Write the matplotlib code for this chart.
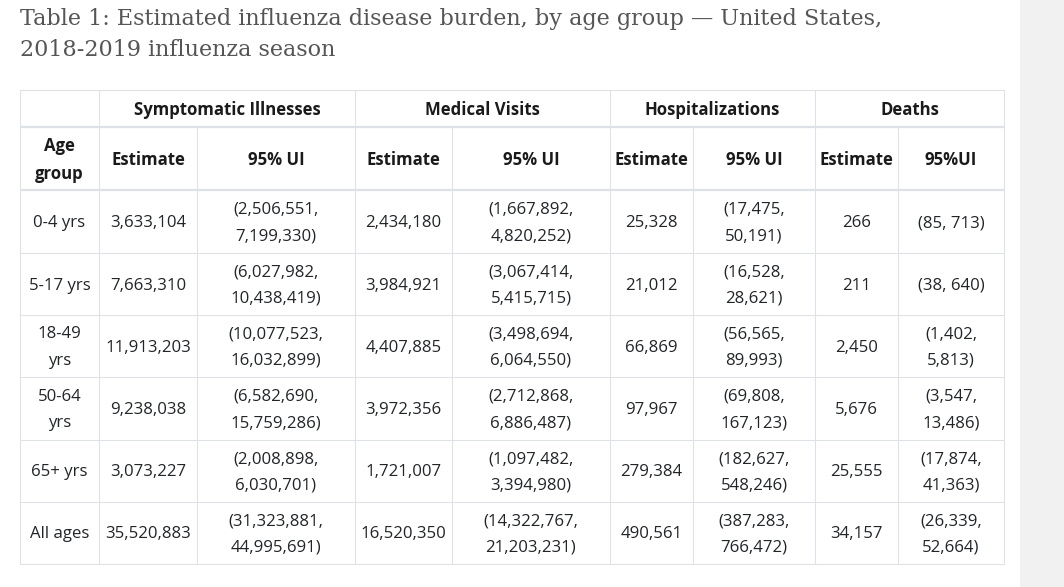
import matplotlib
matplotlib.use("Agg")
import matplotlib.pyplot as plt

# ---------------- data ----------------
title = "Table 1: Estimated influenza disease burden, by age group \u2014 United States,\n2018-2019 influenza season"
groups = ["Symptomatic Illnesses", "Medical Visits", "Hospitalizations", "Deaths"]
subheads = ["Estimate", "95% UI", "Estimate", "95% UI", "Estimate", "95% UI", "Estimate", "95%UI"]
age_groups = ["0-4 yrs", "5-17 yrs", "18-49\nyrs", "50-64\nyrs", "65+ yrs", "All ages"]
illness_est = ["3,633,104", "7,663,310", "11,913,203", "9,238,038", "3,073,227", "35,520,883"]
illness_ui = ["(2,506,551,\n7,199,330)", "(6,027,982,\n10,438,419)", "(10,077,523,\n16,032,899)",
              "(6,582,690,\n15,759,286)", "(2,008,898,\n6,030,701)", "(31,323,881,\n44,995,691)"]
visits_est = ["2,434,180", "3,984,921", "4,407,885", "3,972,356", "1,721,007", "16,520,350"]
visits_ui = ["(1,667,892,\n4,820,252)", "(3,067,414,\n5,415,715)", "(3,498,694,\n6,064,550)",
             "(2,712,868,\n6,886,487)", "(1,097,482,\n3,394,980)", "(14,322,767,\n21,203,231)"]
hosp_est = ["25,328", "21,012", "66,869", "97,967", "279,384", "490,561"]
hosp_ui = ["(17,475,\n50,191)", "(16,528,\n28,621)", "(56,565,\n89,993)",
           "(69,808,\n167,123)", "(182,627,\n548,246)", "(387,283,\n766,472)"]
death_est = ["266", "211", "2,450", "5,676", "25,555", "34,157"]
death_ui = ["(85, 713)", "(38, 640)", "(1,402,\n5,813)", "(3,547,\n13,486)", "(17,874,\n41,363)", "(26,339,\n52,664)"]

# ---------------- layout (pixels) ----------------
W, H = 1064, 587
col_x = [20, 99, 197, 355, 452, 610, 693, 815, 898, 1004]
row_y = [90, 127, 190, 253, 315, 377, 440, 502, 564]
line_c = "#dee2e6"
txt_c = "#212529"

fig = plt.figure(figsize=(W / 100, H / 100), dpi=100)
ax = fig.add_axes([0, 0, 1, 1])
ax.set_xlim(0, W)
ax.set_ylim(H, 0)
ax.axis("off")

# right grey panel
ax.add_patch(plt.Rectangle((1020, 0), W - 1020, H, color="#f1f1f1", lw=0, zorder=0))

ax.text(20, 8, title, fontsize=16, family="DejaVu Serif", color="#555555",
        va="top", ha="left", linespacing=1.5)

FS = 12.1
body = dict(family="Open Sans", color=txt_c, fontsize=FS, linespacing=1.85)
head = dict(family="Open Sans", color="#1a1a1a", fontsize=FS, fontweight="bold", linespacing=1.7)

def cx(i):
    return (col_x[i] + col_x[i + 1]) / 2

def cy(j):
    return (row_y[j] + row_y[j + 1]) / 2

# header row 1
for g, name in enumerate(groups):
    ax.text((col_x[1 + 2 * g] + col_x[3 + 2 * g]) / 2, cy(0) + 1.5, name, ha="center", va="center", **head)
# header row 2
ax.text(cx(0), cy(1) + 1.5, "Age\ngroup", ha="center", va="center", **head)
for i, s in enumerate(subheads):
    ax.text(cx(i + 1), cy(1) + 1.5, s, ha="center", va="center", **head)

cols = [age_groups, illness_est, illness_ui, visits_est, visits_ui, hosp_est, hosp_ui, death_est, death_ui]
for i, col in enumerate(cols):
    for j, val in enumerate(col):
        ax.text(cx(i), cy(j + 2) + 1.5, val, ha="center", va="center", **body)

# grid lines
lw1 = 0.75
for k, y in enumerate(row_y):
    thick = k in (1, 2)
    ax.plot([col_x[0], col_x[-1]], [y, y], color=line_c, lw=1.6 if thick else lw1,
            solid_capstyle="butt", zorder=1)
for i, x in enumerate(col_x):
    if i in (0, 1, 3, 5, 7, 9):
        ax.plot([x, x], [row_y[0], row_y[-1]], color=line_c, lw=lw1, zorder=1)
    else:
        ax.plot([x, x], [row_y[1], row_y[-1]], color=line_c, lw=lw1, zorder=1)

fig.savefig("out.png", dpi=100, facecolor="white")
